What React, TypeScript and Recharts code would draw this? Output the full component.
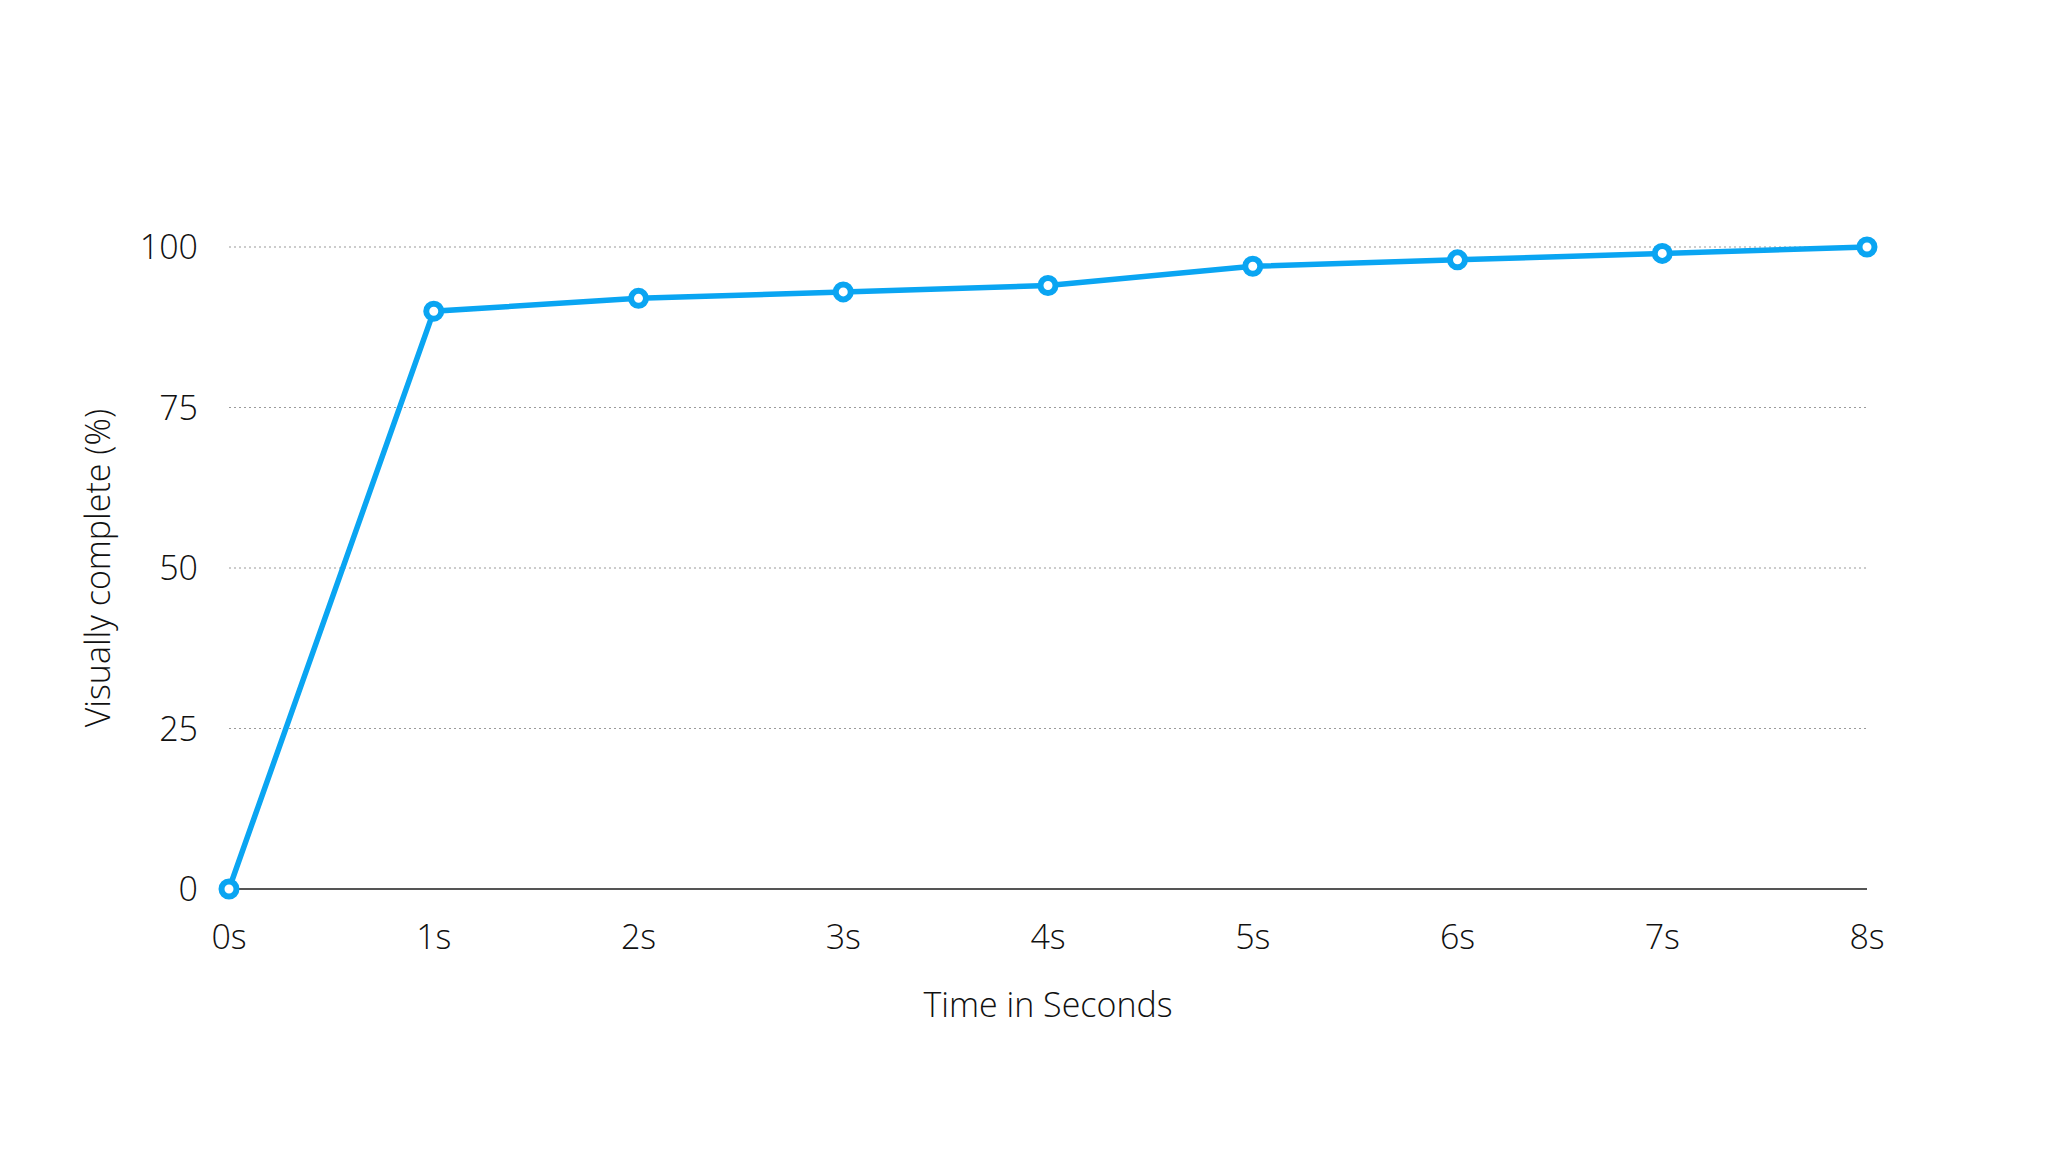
import React from "react";
import {
  LineChart,
  Line,
  XAxis,
  YAxis,
  CartesianGrid,
} from "recharts";

const seconds = ["0s", "1s", "2s", "3s", "4s", "5s", "6s", "7s", "8s"];
const visuallyComplete = [0, 90, 92, 93, 94, 97, 98, 99, 100];
const yTicks = [0, 25, 50, 75, 100];

const LINE_COLOR = "#0aa5f2";
const TEXT_COLOR = "#111";
const FONT = "'Open Sans', 'Noto Sans', sans-serif";

export default function App() {
  const data = seconds.map((label, i) => ({
    label,
    value: visuallyComplete[i],
  }));

  const tickStyle = {
    fill: TEXT_COLOR,
    fontSize: 34,
    fontFamily: FONT,
    fontWeight: 300,
  };

  return (
    <div style={{ position: "absolute", left: 0, top: 0, background: "#fff" }}>
      <LineChart
        width={2048}
        height={1152}
        data={data}
        margin={{ top: 247, right: 181, bottom: 123, left: 0 }}
      >
        <CartesianGrid
          vertical={false}
          stroke="#9a9a9a"
          strokeDasharray="2 3"
          strokeWidth={1.2}
        />
        <XAxis
          dataKey="label"
          type="category"
          scale="point"
          padding={{ left: 0, right: 0 }}
          height={140}
          tickLine={false}
          tickSize={0}
          tickMargin={36}
          axisLine={{ stroke: "#555", strokeWidth: 2 }}
          tick={tickStyle}
          label={{
            value: "Time in Seconds",
            position: "insideTop",
            offset: 104,
            style: { ...tickStyle, textAnchor: "middle" },
          }}
        />
        <YAxis
          width={229}
          domain={[0, 100]}
          ticks={yTicks}
          axisLine={false}
          tickLine={false}
          tickSize={0}
          tickMargin={31}
          tick={tickStyle}
          label={{
            value: "Visually complete (%)",
            angle: -90,
            position: "insideLeft",
            offset: 98,
            style: { ...tickStyle, textAnchor: "middle" },
          }}
        />
        <Line
          type="linear"
          dataKey="value"
          stroke={LINE_COLOR}
          strokeWidth={5.5}
          dot={{ r: 7.5, fill: "#fff", stroke: LINE_COLOR, strokeWidth: 6 }}
          isAnimationActive={false}
        />
      </LineChart>
    </div>
  );
}
